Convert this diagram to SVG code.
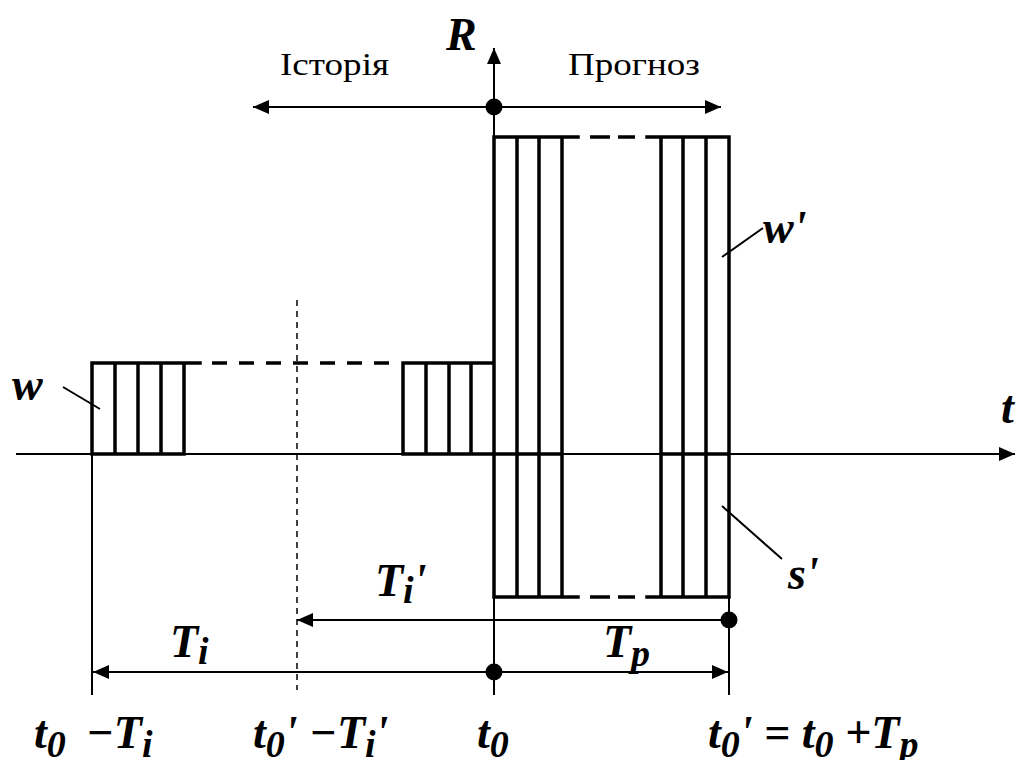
<svg xmlns="http://www.w3.org/2000/svg" width="1024" height="760" viewBox="0 0 1024 760">
<style>
.thin{stroke:#000;stroke-width:2;fill:none}
.b{stroke:#000;stroke-width:3.5;fill:none;stroke-linecap:square}
.bd{stroke:#000;stroke-width:3.5;fill:none}
.dash{stroke:#000;stroke-width:1.5;fill:none;stroke-dasharray:6 5}
.m{font-weight:bold;font-style:italic;font-size:46px;fill:#000}
.sub{font-size:38px}
.r{font-size:32px;fill:#000}
</style>
<defs>
<marker id="ah" viewBox="0 0 16 14" refX="16" refY="7" markerWidth="16" markerHeight="14" markerUnits="userSpaceOnUse" orient="auto-start-reverse">
<path d="M0,0 L16,7 L0,14 z" fill="#000"/>
</marker>
</defs>
<rect width="1024" height="760" fill="#fff"/>
<g id="connectors">
<path class="thin" d="M16,454 H1015" marker-end="url(#ah)"/>
<path class="thin" d="M494,695 V48" marker-end="url(#ah)"/>
<path class="thin" d="M253,107 H721" marker-start="url(#ah)" marker-end="url(#ah)"/>
<path class="thin" d="M729,620 H297" marker-end="url(#ah)"/>
<path class="thin" d="M494,672 H93" marker-end="url(#ah)"/>
<path class="thin" d="M494,672 H728" marker-end="url(#ah)"/>
<path class="thin" d="M92,454 V695 M729,597 V695"/>
<path class="dash" d="M297,300 V690"/>
<path class="thin" d="M63,387 L100,409 M722,257 L763,228 M722,506 L782,559"/>
<circle cx="494" cy="107" r="8.5"/>
<circle cx="729" cy="620" r="8.5"/>
<circle cx="494" cy="672" r="8.5"/>
</g>
<g id="history-blocks">
<path class="b" d="M92,454 V363 H200 M92,454 H184 M115,363 V454 M138,363 V454 M161,363 V454 M184,363 V454"/>
<path class="bd" d="M200,363 H395" stroke-dasharray="15 12" stroke-dashoffset="-12"/>
<path class="b" d="M403,454 V363 H493 M403,454 H493 M426,363 V454 M449,363 V454 M471,363 V454"/>
</g>
<g id="forecast-blocks">
<path class="b" d="M494,597 V137 H578 M494,597 H578 M494,454 H562 M517,137 V597 M539,137 V597 M562,137 V597"/>
<path class="bd" d="M590,137 H610 M618,137 H635 M590,597 H610 M618,597 H635"/>
<path class="b" d="M647,137 H729 V597 H647 M661,454 H729 M661,137 V597 M683,137 V597 M706,137 V597"/>
</g>
<g id="labels" font-family="'Liberation Serif', serif">
<text class="r" x="280" y="75" textLength="109" lengthAdjust="spacingAndGlyphs">Історія</text>
<text class="r" x="568" y="75" textLength="132" lengthAdjust="spacingAndGlyphs">Прогноз</text>
<text class="m" x="446" y="50">R</text>
<text class="m" x="1001" y="423">t</text>
<text class="m" x="12" y="400">w</text>
<text class="m" x="763" y="243">w'</text>
<text class="m" x="788" y="589">s'</text>
<text class="m" x="375" y="596">T<tspan class="sub" dy="7">i</tspan><tspan dy="-7">'</tspan></text>
<text class="m" x="170" y="657">T<tspan class="sub" dy="7">i</tspan></text>
<text class="m" x="603" y="657">T<tspan class="sub" dy="9">p</tspan></text>
<text class="m" x="34" y="748">t<tspan class="sub" dy="9">0</tspan></text>
<text class="m" x="86" y="748">−T<tspan class="sub" dy="9">i</tspan></text>
<text class="m" x="253" y="748">t<tspan class="sub" dy="9">0</tspan><tspan dy="-9">' −T</tspan><tspan class="sub" dy="9">i</tspan><tspan dy="-9">'</tspan></text>
<text class="m" x="477" y="748">t<tspan class="sub" dy="9">0</tspan></text>
<text class="m" x="708" y="748">t<tspan class="sub" dy="9">0</tspan><tspan dy="-9">' = t</tspan><tspan class="sub" dy="9">0</tspan><tspan dy="-9"> +T</tspan><tspan class="sub" dy="9">p</tspan></text>
</g>
</svg>
